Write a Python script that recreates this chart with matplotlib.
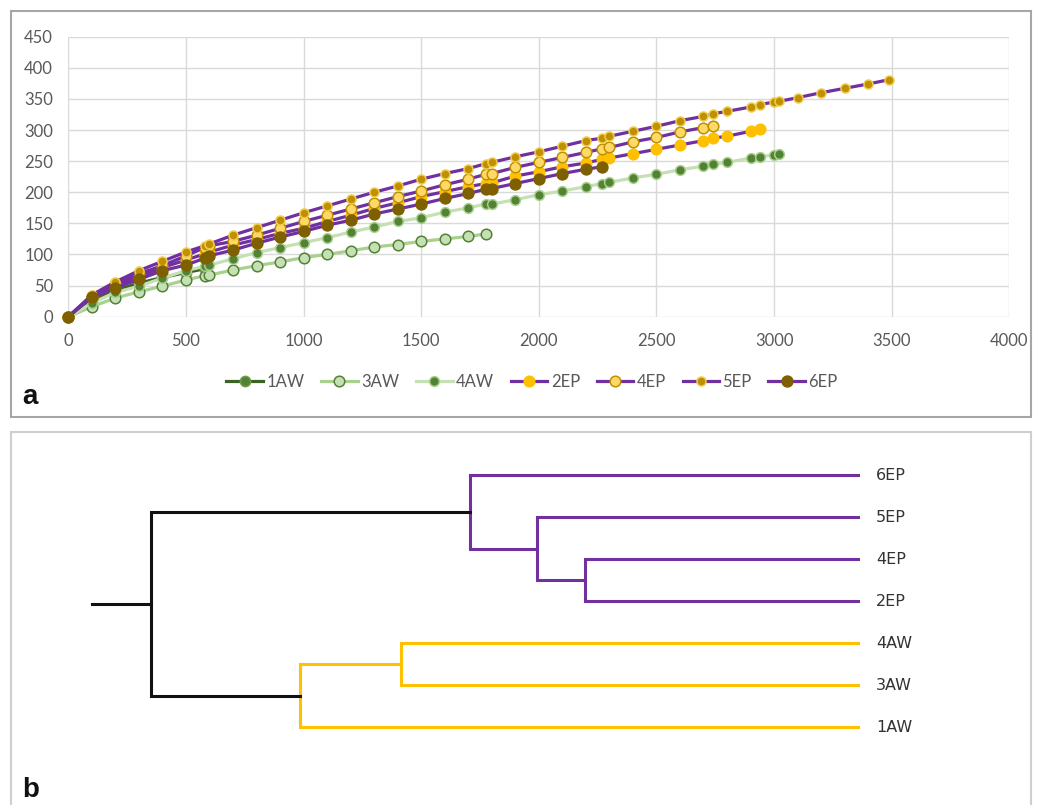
import matplotlib
matplotlib.use("Agg")
import matplotlib.pyplot as plt
from matplotlib.patches import Rectangle

W, H = 1040, 805

# ---- panel a data: load (x) shared by all series, each series is a prefix
x_load = [0, 100, 200, 300, 400, 500, 580, 600, 700, 800, 900, 1000, 1100,
          1200, 1300, 1400, 1500, 1600, 1700, 1775, 1800, 1900, 2000, 2100,
          2200, 2270, 2300, 2400, 2500, 2600, 2700, 2740, 2800, 2900, 2940,
          3000, 3020, 3100, 3200, 3300, 3400, 3490]

y_1AW = [0, 26, 42, 54, 63, 71, 77]
y_3AW = [0, 16, 30, 40, 49, 59, 66, 67, 75, 82, 88, 95, 100, 106, 112, 116,
         121, 125, 129, 133]
y_4AW = [0, 22, 39, 49, 62, 74, 81, 83, 93, 103, 111, 119, 127, 136, 144, 153,
         159, 168, 175, 181, 181, 188, 196, 202, 209, 214, 216, 223, 229, 236,
         242, 245, 248, 255, 257, 260, 261]
y_2EP = [0, 33, 49, 64, 79, 91, 101, 104, 115, 124, 134, 142, 153, 163, 174,
         183, 193, 201, 209, 214, 215, 226, 233, 241, 247, 253, 255, 262, 269,
         276, 283, 287, 290, 298, 301]
y_4EP = [0, 32, 52, 69, 82, 98, 111, 114, 121, 131, 142, 153, 163, 173, 183,
         193, 202, 212, 221, 229, 230, 240, 248, 256, 264, 270, 272, 281, 288,
         297, 304, 307]
y_5EP = [0, 35, 56, 74, 89, 104, 114, 117, 131, 143, 155, 167, 178, 189, 200,
         210, 221, 230, 238, 246, 248, 257, 265, 274, 283, 287, 290, 298, 306,
         315, 322, 326, 330, 337, 341, 345, 346, 352, 360, 367, 374, 381]
y_6EP = [0, 31, 46, 60, 74, 83, 94, 98, 107, 118, 128, 137, 147, 155, 165, 173,
         181, 190, 198, 205, 206, 214, 222, 230, 237, 241]

series_names = ['1AW', '3AW', '4AW', '2EP', '4EP', '5EP', '6EP']
series_y = [y_1AW, y_3AW, y_4AW, y_2EP, y_4EP, y_5EP, y_6EP]

x_ticks = [0, 500, 1000, 1500, 2000, 2500, 3000, 3500, 4000]
y_ticks = [0, 50, 100, 150, 200, 250, 300, 350, 400, 450]

# ---- panel b data: dendrogram (rescaled distance), leaves top to bottom
leaves = ['6EP', '5EP', '4EP', '2EP', '4AW', '3AW', '1AW']
# merges: node ids 0-6 are leaves, new clusters get 7, 8, ...
link_a = [2, 1, 0, 4, 10, 9]
link_b = [3, 7, 8, 5, 6, 11]
link_h = [9.65, 11.35, 13.72, 16.16, 19.73, 25.0]
root_stub = 27.1

# styles
purple = '#7030A0'
styles = {
    '1AW': dict(color='#3B6323', mfc='#548235', mec='#6E9B4E', ms=7.4),
    '3AW': dict(color='#A9D18E', mfc='#C5E0B4', mec='#548235', ms=7.6),
    '4AW': dict(color='#C5E0B4', mfc='#548235', mec='#A9D18E', ms=7.0),
    '2EP': dict(color=purple, mfc='#FFC000', mec='#FFC000', ms=7.6),
    '4EP': dict(color=purple, mfc='#FFD966', mec='#BF9000', ms=7.6),
    '5EP': dict(color=purple, mfc='#BF9000', mec='#F2CC4D', ms=6.5),
    '6EP': dict(color=purple, mfc='#7F6000', mec='#7F6000', ms=7.8),
}
link_colors = [purple, purple, purple, '#FFC000', '#FFC000', '#111111']

plt.rcParams['font.family'] = ['Lato', 'DejaVu Sans']

fig = plt.figure(figsize=(W / 100, H / 100), dpi=100)

# panel frames
fig.patches.append(Rectangle((11 / W, 1 - 417 / H), 1020 / W, 406 / H,
                             transform=fig.transFigure, fill=False,
                             edgecolor='#a6a6a6', linewidth=1.5))
fig.patches.append(Rectangle((11 / W, -0.05), 1020 / W, 1 - 432 / H + 0.05,
                             transform=fig.transFigure, fill=False,
                             edgecolor='#cfcfcf', linewidth=1.5))

# ---- panel a
ax = fig.add_axes([68.3 / W, 1 - 316.7 / H, 941 / W, 280 / H])
for name, ys in zip(series_names, series_y):
    st = styles[name]
    ax.plot(x_load[:len(ys)], ys, color=st['color'], lw=2.3, marker='o',
            ms=st['ms'], mfc=st['mfc'], mec=st['mec'], mew=1.1,
            label=name, clip_on=False)

ax.set_xlim(0, 4000)
ax.set_ylim(0, 450)
ax.set_xticks(x_ticks)
ax.set_yticks(y_ticks)
ax.grid(True, color='#d9d9d9', lw=1.0)
ax.set_axisbelow(True)
for s in ax.spines.values():
    s.set_visible(False)
ax.tick_params(length=0, labelsize=12, labelcolor='#595959')
ax.tick_params(axis='y', pad=11)
ax.tick_params(axis='x', pad=12)

fig.legend(loc='center', bbox_to_anchor=(532 / W, 1 - 382 / H), ncol=7,
           frameon=False, fontsize=12, labelcolor='#595959',
           handlelength=2.2, handletextpad=0.2, columnspacing=1.0)

fig.text(22 / W, 1 - 404 / H, 'a', fontsize=20, fontweight='bold',
         family=['Liberation Sans', 'DejaVu Sans'], color='#111111')

# ---- panel b: dendrogram
axd = fig.add_axes([92 / W, 1 - 748 / H, 766 / W, 294 / H])
axd.set_xlim(root_stub, 0)
axd.set_ylim(len(leaves) - 0.5, -0.5)
axd.axis('off')

node_pos = {i: (0.0, float(i)) for i in range(len(leaves))}
for k, (a, b, h) in enumerate(zip(link_a, link_b, link_h)):
    ha, ya = node_pos[a]
    hb, yb = node_pos[b]
    axd.plot([ha, h, h, hb], [ya, ya, yb, yb], color=link_colors[k],
             lw=2.2, solid_joinstyle='miter', clip_on=False)
    node_pos[len(leaves) + k] = (h, (ya + yb) / 2)

root_h, root_y = node_pos[len(leaves) + len(link_h) - 1]
axd.plot([root_h, root_stub], [root_y, root_y], color='#111111', lw=2.2,
         clip_on=False)

for i, name in enumerate(leaves):
    axd.annotate(name, (0, i), xytext=(13, 0), textcoords='offset points',
                 va='center', ha='left', fontsize=11.5, color='#333333',
                 family=['DejaVu Sans'])

fig.text(22 / W, 1 - 797 / H, 'b', fontsize=20, fontweight='bold',
         family=['Liberation Sans', 'DejaVu Sans'], color='#111111')

fig.savefig('out.png', dpi=100)
